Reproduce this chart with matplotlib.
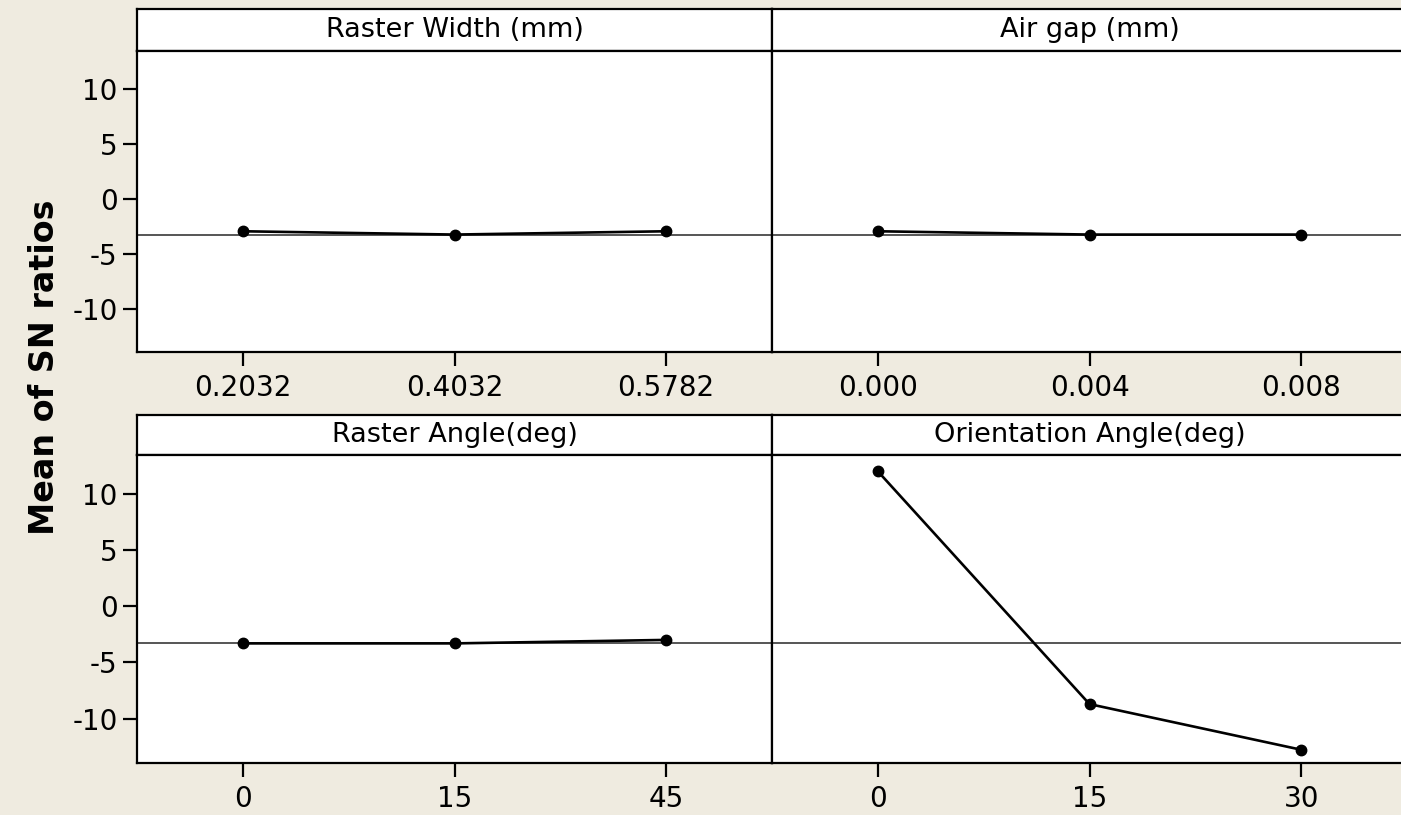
import matplotlib
matplotlib.use("Agg")
import matplotlib.pyplot as plt

# main effects for SN ratios
raster_width = ["0.2032", "0.4032", "0.5782"]
raster_width_sn = [-2.96, -3.26, -2.96]
air_gap = ["0.000", "0.004", "0.008"]
air_gap_sn = [-2.96, -3.26, -3.26]
raster_angle = ["0", "15", "45"]
raster_angle_sn = [-3.31, -3.31, -3.00]
orientation = ["0", "15", "30"]
orientation_sn = [12.0, -8.71, -12.77]
overall_mean = -3.31

titles = ["Raster Width (mm)", "Air gap (mm)", "Raster Angle(deg)", "Orientation Angle(deg)"]
levels = [raster_width, air_gap, raster_angle, orientation]
values = [raster_width_sn, air_gap_sn, raster_angle_sn, orientation_sn]
yticks = [-10, -5, 0, 5, 10]

W, H = 1401, 815
bg = "#EFEBE0"
plt.rcParams["font.family"] = ["DejaVu Sans"]
plt.rcParams["axes.unicode_minus"] = False
fig = plt.figure(figsize=(W / 100, H / 100), dpi=100, facecolor=bg)


def px_box(x0, y0, x1, y1):
    # pixel box (top-left origin) -> figure fraction rect
    return [x0 / W, 1 - y1 / H, (x1 - x0) / W, (y1 - y0) / H]


# panel geometry in pixels: (left, right) and (header_top, plot_top, plot_bottom)
cols = [(137, 772), (772, 1407)]
rows = [(9, 51, 352), (415, 455, 763)]

for i in range(4):
    r, c = divmod(i, 2)
    x0, x1 = cols[c]
    htop, ptop, pbot = rows[r]

    hax = fig.add_axes(px_box(x0, htop, x1, ptop))
    hax.set_facecolor("white")
    hax.set_xticks([])
    hax.set_yticks([])
    for s in hax.spines.values():
        s.set_linewidth(1.6)
        s.set_color("black")
    hax.text(0.5, 0.5, titles[i], ha="center", va="center", fontsize=19.5, transform=hax.transAxes)

    ax = fig.add_axes(px_box(x0, ptop, x1, pbot))
    ax.set_facecolor("white")
    ax.axhline(overall_mean, color="#555555", lw=1.4, zorder=1)
    ax.plot(levels[i], values[i], color="black", lw=1.9, marker="o", ms=7.5, zorder=3)
    ax.set_xlim(-0.5, 2.5)
    ax.set_ylim(-13.95, 13.45)
    for s in ax.spines.values():
        s.set_linewidth(1.6)
        s.set_color("black")
    ax.tick_params(axis="x", direction="out", length=10, width=1.6, labelsize=20, pad=6)
    if c == 0:
        ax.set_yticks(yticks)
        ax.tick_params(axis="y", direction="out", length=10, width=1.6, labelsize=20, pad=4)
    else:
        ax.set_yticks([])

fig.text(45 / W, 1 - 367 / H, "Mean of SN ratios", rotation=90, ha="center", va="center",
         fontsize=24, fontweight="bold")

fig.savefig("out.png", dpi=100, facecolor=bg)
